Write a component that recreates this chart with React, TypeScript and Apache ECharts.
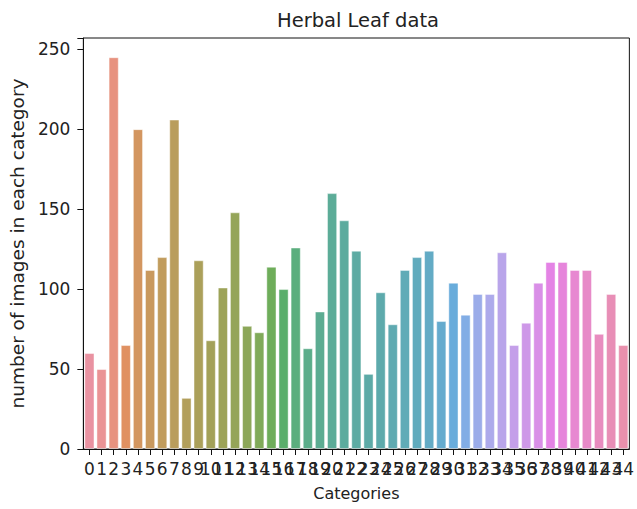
import React, { useEffect, useRef } from "react";
import * as echarts from "echarts";

const categories: string[] = Array.from({ length: 45 }, (_, i) => String(i));
const counts: number[] = [
  60, 50, 245, 65, 200, 112, 120, 206, 32, 118,
  68, 101, 148, 77, 73, 114, 100, 126, 63, 86,
  160, 143, 124, 47, 98, 78, 112, 120, 124, 80,
  104, 84, 97, 97, 123, 65, 79, 104, 117, 117,
  112, 112, 72, 97, 65,
];
const yTicks: number[] = [0, 50, 100, 150, 200, 250];
const titleText = "Herbal Leaf data";
const xName = "Categories";
const yName = "number of images in each category";

// ---- seaborn "husl" palette (HSLuv) + barplot desaturation (0.75) ----
const M = [
  [3.240969941904521, -1.537383177570093, -0.498610760293],
  [-0.96924363628087, 1.87596750150772, 0.041555057407175],
  [0.055630079696993, -0.20397695888897, 1.056971514242878],
];
const REF_U = 0.19783000664283;
const REF_V = 0.46831999493879;
const KAPPA = 903.2962962;
const EPS = 0.0088564516;

function bounds(L: number): [number, number][] {
  const res: [number, number][] = [];
  const sub1 = Math.pow(L + 16, 3) / 1560896;
  const sub2 = sub1 > EPS ? sub1 : L / KAPPA;
  for (const [m1, m2, m3] of M) {
    for (const t of [0, 1]) {
      const top1 = (284517 * m1 - 94839 * m3) * sub2;
      const top2 = (838422 * m3 + 769860 * m2 + 731718 * m1) * L * sub2 - 769860 * t * L;
      const bottom = (632260 * m3 - 126452 * m2) * sub2 + 126452 * t;
      res.push([top1 / bottom, top2 / bottom]);
    }
  }
  return res;
}
function maxChroma(L: number, H: number): number {
  const hr = (H / 360) * Math.PI * 2;
  let min = Infinity;
  for (const [s, i] of bounds(L)) {
    const len = i / (Math.sin(hr) - s * Math.cos(hr));
    if (len >= 0) min = Math.min(min, len);
  }
  return min;
}
function fromLinear(c: number): number {
  return c <= 0.0031308 ? 12.92 * c : 1.055 * Math.pow(c, 1 / 2.4) - 0.055;
}
function huslToRgb(H: number, S: number, L: number): number[] {
  const C = (maxChroma(L, H) / 100) * S;
  const hr = (H / 360) * Math.PI * 2;
  const U = Math.cos(hr) * C;
  const V = Math.sin(hr) * C;
  const Y = L <= 8 ? L / KAPPA : Math.pow((L + 16) / 116, 3);
  const varU = U / (13 * L) + REF_U;
  const varV = V / (13 * L) + REF_V;
  const X = (9 * Y * varU) / (4 * varV);
  const Z = (9 * Y - 15 * varV * Y - varV * X) / (3 * varV);
  return M.map((r) => Math.min(1, Math.max(0, fromLinear(r[0] * X + r[1] * Y + r[2] * Z))));
}
function rgbToHls(r: number, g: number, b: number): number[] {
  const mx = Math.max(r, g, b), mn = Math.min(r, g, b);
  const l = (mx + mn) / 2;
  if (mx === mn) return [0, l, 0];
  const d = mx - mn;
  const s = l <= 0.5 ? d / (mx + mn) : d / (2 - mx - mn);
  const rc = (mx - r) / d, gc = (mx - g) / d, bc = (mx - b) / d;
  let h = r === mx ? bc - gc : g === mx ? 2 + rc - bc : 4 + gc - rc;
  h = ((h / 6) % 1 + 1) % 1;
  return [h, l, s];
}
function hv(m1: number, m2: number, hue: number): number {
  hue = ((hue % 1) + 1) % 1;
  if (hue < 1 / 6) return m1 + (m2 - m1) * hue * 6;
  if (hue < 0.5) return m2;
  if (hue < 2 / 3) return m1 + (m2 - m1) * (2 / 3 - hue) * 6;
  return m1;
}
function hlsToRgb(h: number, l: number, s: number): number[] {
  if (s === 0) return [l, l, l];
  const m2 = l <= 0.5 ? l * (1 + s) : l + s - l * s;
  const m1 = 2 * l - m2;
  return [hv(m1, m2, h + 1 / 3), hv(m1, m2, h), hv(m1, m2, h - 1 / 3)];
}
function toHex(c: number[]): string {
  return "#" + c.map((x) => Math.round(x * 255).toString(16).padStart(2, "0")).join("");
}
function huslPalette(n: number): string[] {
  const out: string[] = [];
  for (let i = 0; i < n; i++) {
    const hue = ((i / n + 0.01) % 1) * 359;
    const rgb = huslToRgb(hue, 0.9 * 99, 0.65 * 99);
    const [h, l, s] = rgbToHls(rgb[0], rgb[1], rgb[2]);
    const d = hlsToRgb(h, l, s * 0.75);
    // slight lightening seen in the reference rendering
    out.push(toHex(d.map((x) => x + (1 - x) * 0.13)));
  }
  return out;
}

const FONT = "'DejaVu Sans', sans-serif";

export default function App() {
  const ref = useRef<HTMLDivElement>(null);
  useEffect(() => {
    if (!ref.current) return;
    const chart = echarts.init(ref.current, undefined, { renderer: "svg" });
    const palette = huslPalette(categories.length);
    chart.setOption({
      animation: false,
      backgroundColor: "#ffffff",
      textStyle: { fontFamily: FONT },
      graphic: [
        {
          type: "text",
          x: 358,
          y: 20,
          style: {
            text: titleText,
            fill: "#222",
            font: `19.5px ${FONT}`,
            align: "center",
            verticalAlign: "middle",
          },
        },
      ],
      grid: {
        left: 80,
        top: 38,
        right: 1,
        bottom: 60,
        show: true,
        borderColor: "#111",
        borderWidth: 1,
        backgroundColor: "transparent",
      },
      xAxis: {
        type: "category",
        data: categories,
        name: xName,
        nameLocation: "middle",
        nameGap: 36,
        nameTextStyle: { fontSize: 16, color: "#222", fontFamily: FONT, verticalAlign: "top" },
        axisLine: { show: true, lineStyle: { color: "#111", width: 1 } },
        axisTick: { show: true, alignWithLabel: true, length: 6, lineStyle: { color: "#111" } },
        axisLabel: {
          interval: 0,
          hideOverlap: false,
          margin: 11,
          fontSize: 17,
          color: "#222",
          fontFamily: FONT,
        },
        splitLine: { show: false },
      },
      yAxis: {
        type: "value",
        min: 0,
        max: 257,
        interval: 50,
        name: yName,
        nameLocation: "middle",
        nameGap: 50,
        nameTextStyle: { fontSize: 18.5, color: "#222", fontFamily: FONT },
        axisLine: { show: true, lineStyle: { color: "#111", width: 1 } },
        axisTick: { show: true, length: 6, lineStyle: { color: "#111" } },
        axisLabel: {
          margin: 13,
          fontSize: 17,
          color: "#222",
          fontFamily: FONT,
          formatter: (val: number) => (yTicks.includes(val) ? String(val) : ""),
        },
        splitLine: { show: false },
      },
      series: [
        {
          type: "bar",
          barCategoryGap: "16%",
          data: counts.map((c, i) => ({
            value: c,
            itemStyle: { color: palette[i], borderColor: "rgba(255,255,255,0.45)", borderWidth: 1 },
          })),
        },
      ],
    });
    return () => chart.dispose();
  }, []);
  return (
    <div
      ref={ref}
      style={{ position: "absolute", left: 0, top: 0, width: 637, height: 509 }}
    />
  );
}
